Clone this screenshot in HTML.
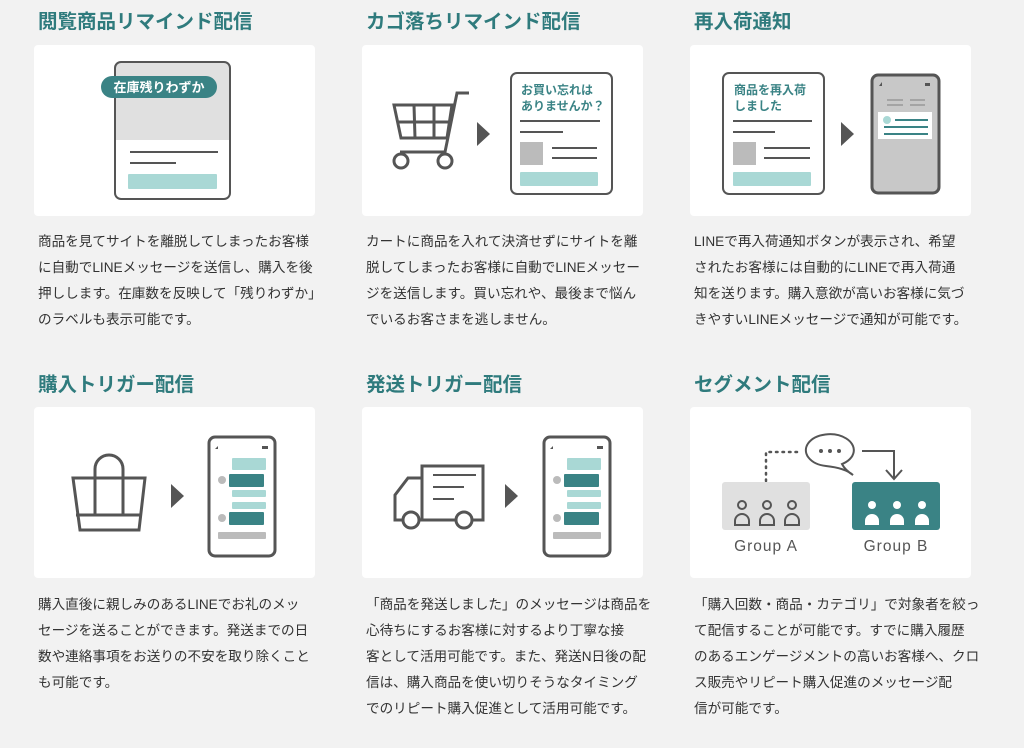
<!DOCTYPE html>
<html><head><meta charset="utf-8"><style>
body{margin:0;background:#f2f2f2;width:1024px;height:748px;overflow:hidden;position:relative;font-family:"Liberation Sans","Noto Sans CJK JP",sans-serif;}
.t{position:absolute;font-size:19.5px;font-weight:bold;color:#2f7b7d;white-space:nowrap;line-height:24px;}
.c{position:absolute;width:281px;height:171px;background:#fff;border-radius:4px;}
.p{position:absolute;font-size:13.6px;color:#333;line-height:26px;white-space:nowrap;}
svg{position:absolute;left:0;top:0;}
</style></head><body>
<div class="t" style="left:38px;top:10px">閲覧商品リマインド配信</div>
<div class="t" style="left:366px;top:10px">カゴ落ちリマインド配信</div>
<div class="t" style="left:694px;top:10px">再入荷通知</div>
<div class="t" style="left:38px;top:373px">購入トリガー配信</div>
<div class="t" style="left:366px;top:373px">発送トリガー配信</div>
<div class="t" style="left:694px;top:373px">セグメント配信</div>
<div class="c" style="left:34px;top:45px"></div>
<div class="c" style="left:362px;top:45px"></div>
<div class="c" style="left:690px;top:45px"></div>
<div class="c" style="left:34px;top:407px"></div>
<div class="c" style="left:362px;top:407px"></div>
<div class="c" style="left:690px;top:407px"></div>
<div class="p" style="left:38px;top:229px">商品を見てサイトを離脱してしまったお客様<br>に自動でLINEメッセージを送信し、購入を後<br>押しします。在庫数を反映して「残りわずか」<br>のラベルも表示可能です。</div>
<div class="p" style="left:366px;top:229px">カートに商品を入れて決済せずにサイトを離<br>脱してしまったお客様に自動でLINEメッセー<br>ジを送信します。買い忘れや、最後まで悩ん<br>でいるお客さまを逃しません。</div>
<div class="p" style="left:694px;top:229px">LINEで再入荷通知ボタンが表示され、希望<br>されたお客様には自動的にLINEで再入荷通<br>知を送ります。購入意欲が高いお客様に気づ<br>きやすいLINEメッセージで通知が可能です。</div>
<div class="p" style="left:38px;top:592px">購入直後に親しみのあるLINEでお礼のメッ<br>セージを送ることができます。発送までの日<br>数や連絡事項をお送りの不安を取り除くこと<br>も可能です。</div>
<div class="p" style="left:366px;top:592px">「商品を発送しました」のメッセージは商品を<br>心待ちにするお客様に対するより丁寧な接<br>客として活用可能です。また、発送N日後の配<br>信は、購入商品を使い切りそうなタイミング<br>でのリピート購入促進として活用可能です。</div>
<div class="p" style="left:694px;top:592px">「購入回数・商品・カテゴリ」で対象者を絞っ<br>て配信することが可能です。すでに購入履歴<br>のあるエンゲージメントの高いお客様へ、クロ<br>ス販売やリピート購入促進のメッセージ配<br>信が可能です。</div>

<svg width="1024" height="748" viewBox="0 0 1024 748" font-family="Liberation Sans,Noto Sans CJK JP,sans-serif">
<!-- card1 -->
<path d="M121 62 h103 a6 6 0 0 1 6 6 v72 h-115 v-72 a6 6 0 0 1 6 -6z" fill="#e0e0e0"/>
<rect x="115" y="62" width="115" height="137" rx="6" fill="none" stroke="#555" stroke-width="2"/>
<line x1="130" y1="152" x2="218" y2="152" stroke="#555" stroke-width="2"/>
<line x1="130" y1="163" x2="176" y2="163" stroke="#555" stroke-width="2"/>
<rect x="128" y="174" width="89" height="15" rx="1" fill="#a9d8d5"/>
<rect x="101" y="76" width="116" height="22" rx="11" fill="#3a8385"/>
<text x="159" y="92" font-size="13" fill="#fff" text-anchor="middle" font-weight="bold">在庫残りわずか</text>
<!-- card2 cart -->
<g fill="none" stroke="#555" stroke-width="3">
<path d="M469 93 H457 L445 152 H400"/>
<path d="M394 105 H452 L447 138 H401 Z"/>
<line x1="414" y1="105" x2="415" y2="138"/><line x1="434" y1="105" x2="434" y2="138"/>
<line x1="397" y1="122" x2="450" y2="122"/>
<circle cx="401" cy="161" r="7"/><circle cx="445" cy="161" r="7"/>
</g>
<polygon points="477,122 490,134 477,146" fill="#555"/>
<rect x="511" y="73" width="101" height="121" rx="6" fill="#fff" stroke="#555" stroke-width="2"/>
<text x="521" y="94" font-size="12" fill="#3a8385" font-weight="bold">お買い忘れは</text>
<text x="521" y="110" font-size="12" fill="#3a8385" font-weight="bold">ありませんか？</text>
<line x1="520" y1="121" x2="600" y2="121" stroke="#555" stroke-width="2"/>
<line x1="520" y1="132" x2="563" y2="132" stroke="#555" stroke-width="2"/>
<rect x="520" y="142" width="23" height="23" fill="#bbb"/>
<line x1="552" y1="148" x2="597" y2="148" stroke="#555" stroke-width="2"/>
<line x1="552" y1="158" x2="597" y2="158" stroke="#555" stroke-width="2"/>
<rect x="520" y="172" width="78" height="14" rx="1" fill="#a9d8d5"/>
<!-- card3 -->
<rect x="723" y="73" width="101" height="121" rx="6" fill="#fff" stroke="#555" stroke-width="2"/>
<text x="734" y="94" font-size="12" fill="#3a8385" font-weight="bold">商品を再入荷</text>
<text x="734" y="110" font-size="12" fill="#3a8385" font-weight="bold">しました</text>
<line x1="733" y1="121" x2="812" y2="121" stroke="#555" stroke-width="2"/>
<line x1="733" y1="132" x2="775" y2="132" stroke="#555" stroke-width="2"/>
<rect x="733" y="142" width="23" height="23" fill="#bbb"/>
<line x1="764" y1="148" x2="810" y2="148" stroke="#555" stroke-width="2"/>
<line x1="764" y1="158" x2="810" y2="158" stroke="#555" stroke-width="2"/>
<rect x="733" y="172" width="78" height="14" rx="1" fill="#a9d8d5"/>
<polygon points="841,122 854,134 841,146" fill="#555"/>
<rect x="872" y="75" width="67" height="118" rx="6" fill="#c8c8c8" stroke="#555" stroke-width="3"/>
<rect x="925" y="83" width="5" height="3" fill="#555"/><polygon points="879,86 882,82 882,86" fill="#555"/>
<g stroke="#999" stroke-width="1.5"><line x1="887" y1="100" x2="903" y2="100"/><line x1="887" y1="105" x2="903" y2="105"/><line x1="910" y1="100" x2="925" y2="100"/><line x1="910" y1="105" x2="925" y2="105"/></g>
<rect x="878" y="112" width="54" height="27" fill="#fff"/>
<circle cx="887" cy="120" r="4" fill="#a9d8d5"/>
<g stroke="#3a8385" stroke-width="2"><line x1="895" y1="120" x2="928" y2="120"/><line x1="884" y1="127" x2="928" y2="127"/><line x1="884" y1="134" x2="928" y2="134"/></g>
<!-- card4 bag -->
<g fill="none" stroke="#555" stroke-width="3">
<path d="M73 478 H145 L139 530 H80 Z"/>
<line x1="76" y1="515" x2="142" y2="515"/>
<path d="M95 515 V469 A14 14 0 0 1 123 469 V515"/>
</g>
<polygon points="171,484 184,496 171,508" fill="#555"/>
<!-- phone template -->
<g id="ph">
<rect x="209" y="437" width="66" height="119" rx="6" fill="#fff" stroke="#555" stroke-width="3"/>
<polygon points="215,449 218,446 218,449" fill="#555"/><rect x="262" y="446" width="6" height="3" fill="#555"/>
<rect x="232" y="458" width="34" height="12" rx="1" fill="#a9d8d5"/>
<circle cx="222" cy="480" r="4" fill="#bbb"/>
<rect x="229" y="474" width="35" height="13" rx="1" fill="#3a8385"/>
<rect x="232" y="490" width="34" height="7" rx="1" fill="#a9d8d5"/>
<rect x="232" y="502" width="34" height="7" rx="1" fill="#a9d8d5"/>
<circle cx="222" cy="518" r="4" fill="#bbb"/>
<rect x="229" y="512" width="35" height="13" rx="1" fill="#3a8385"/>
<rect x="218" y="532" width="48" height="7" rx="1" fill="#bbb"/>
</g>
<use href="#ph" x="335" y="0"/>
<!-- truck -->
<g fill="none" stroke="#555" stroke-width="3">
<rect x="422" y="466" width="61" height="54"/>
<path d="M422 478 H408 L395 495 V520 H422"/>
<line x1="422" y1="520" x2="483" y2="520"/>
<circle cx="411" cy="520" r="8" fill="#fff"/><circle cx="464" cy="520" r="8" fill="#fff"/>
<line x1="433" y1="475" x2="476" y2="475" stroke-width="2"/>
<line x1="433" y1="487" x2="464" y2="487" stroke-width="2"/>
<line x1="433" y1="499" x2="454" y2="499" stroke-width="2"/>
</g>
<polygon points="505,484 518,496 505,508" fill="#555"/>
<!-- card6 -->
<g fill="none" stroke="#555" stroke-width="2">
<path d="M766 481 V452 H800" stroke-dasharray="1.5 5" stroke-width="2.5" stroke-linecap="round"/>
<path d="M862 451 H894 V478"/><path d="M886 470 L894 479 L902 470"/>
<path d="M842 464 A24 16 0 1 0 826 466 Q845 468 853 475 Q845 470 842 464Z" fill="#fff"/>
</g>
<g fill="#555"><circle cx="821" cy="451" r="2"/><circle cx="830" cy="451" r="2"/><circle cx="839" cy="451" r="2"/></g>
<rect x="722" y="482" width="88" height="48" rx="3" fill="#e0e0e0"/>
<rect x="852" y="482" width="88" height="48" rx="3" fill="#3a8385"/>
<g fill="none" stroke="#555" stroke-width="2">
<circle cx="742" cy="505" r="4"/><path d="M735 525 v-4 a7 7 0 0 1 14 0 v4z"/>
<circle cx="767" cy="505" r="4"/><path d="M760 525 v-4 a7 7 0 0 1 14 0 v4z"/>
<circle cx="792" cy="505" r="4"/><path d="M785 525 v-4 a7 7 0 0 1 14 0 v4z"/>
</g>
<g fill="#fff">
<circle cx="872" cy="505" r="4"/><path d="M865 525 v-4 a7 7 0 0 1 14 0 v4z"/>
<circle cx="897" cy="505" r="4"/><path d="M890 525 v-4 a7 7 0 0 1 14 0 v4z"/>
<circle cx="922" cy="505" r="4"/><path d="M915 525 v-4 a7 7 0 0 1 14 0 v4z"/>
</g>
<text x="766" y="551" font-size="15.5" fill="#555" text-anchor="middle" letter-spacing="1">Group A</text>
<text x="896" y="551" font-size="15.5" fill="#555" text-anchor="middle" letter-spacing="1">Group B</text>
</svg>
</body></html>
